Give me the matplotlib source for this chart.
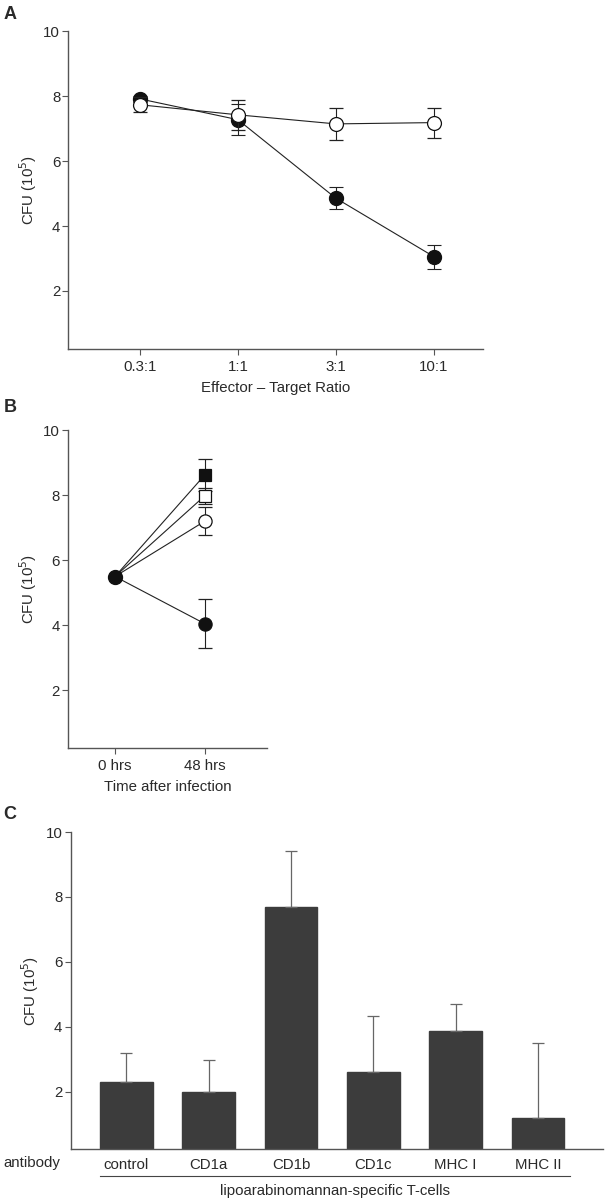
import numpy as np
import matplotlib.pyplot as plt

plt.rcParams["font.family"] = ["Liberation Sans", "DejaVu Sans"]
plt.rcParams["font.size"] = 10.8
plt.rcParams["text.color"] = "#2a2a2a"
plt.rcParams["axes.labelcolor"] = "#2a2a2a"
plt.rcParams["xtick.labelcolor"] = "#2a2a2a"
plt.rcParams["ytick.labelcolor"] = "#2a2a2a"

SPINE = "#555555"

# Panel A: effector-target ratio
ratio_labels = ["0.3:1", "1:1", "3:1", "10:1"]
a_filled = [7.92, 7.28, 4.86, 3.06]
a_filled_err = [0.08, 0.47, 0.34, 0.37]
a_open = [7.74, 7.43, 7.15, 7.19]
a_open_err = [0.23, 0.46, 0.50, 0.46]

# Panel B: time after infection
time_labels = ["0 hrs", "48 hrs"]
b_start = 5.5
b_series = {
    "filled_square": (8.62, 0.50, "s", "#111111"),
    "open_square": (7.98, 0.25, "s", "white"),
    "open_circle": (7.20, 0.43, "o", "white"),
    "filled_circle": (4.05, 0.75, "o", "#111111"),
}

# Panel C: antibody blocking
antibodies = ["control", "CD1a", "CD1b", "CD1c", "MHC I", "MHC II"]
c_values = [2.29, 2.00, 7.70, 2.60, 3.88, 1.18]
c_err = [0.89, 0.97, 1.71, 1.72, 0.81, 2.33]


def style_axes(ax, xticks=True):
    for s in ["top", "right"]:
        ax.spines[s].set_visible(False)
    for s in ["left", "bottom"]:
        ax.spines[s].set_color(SPINE)
        ax.spines[s].set_linewidth(1.0)
    ax.set_ylim(0.22, 10)
    ax.set_yticks([2, 4, 6, 8, 10])
    ax.tick_params(axis="y", direction="out", length=4, width=0.8, color=SPINE, pad=2)
    if xticks:
        ax.tick_params(axis="x", direction="out", length=4, width=0.8, color=SPINE, pad=4)
    else:
        ax.tick_params(axis="x", length=0, pad=6)
    ax.set_ylabel("CFU (10$^5$)", labelpad=3)


fig = plt.figure(figsize=(6.06, 12.01), dpi=100)

# ---- A ----
ax = fig.add_axes([0.113, 0.7097, 0.6835, 0.2641])
x = np.arange(len(ratio_labels))
ax.errorbar(x, a_filled, yerr=a_filled_err, fmt="-o", color="#222222", lw=0.8,
            ms=10, mfc="#111111", mec="#111111", capsize=5, elinewidth=0.8,
            capthick=0.8, zorder=2)
ax.errorbar(x, a_open, yerr=a_open_err, fmt="-o", color="#222222", lw=0.8,
            ms=10, mfc="white", mec="#111111", mew=0.9, capsize=5,
            elinewidth=0.8, capthick=0.8, zorder=3)
ax.set_xlim(-0.73, 3.5)
ax.set_xticks(x)
ax.set_xticklabels(ratio_labels)
ax.set_xlabel("Effector \u2013 Target Ratio", labelpad=5)
style_axes(ax)
fig.text(0.006, 0.995, "A", fontsize=13, fontweight="bold", va="top")

# ---- B ----
ax = fig.add_axes([0.1127, 0.3769, 0.3274, 0.2650])
for name, (val, err, mk, fc) in b_series.items():
    ax.plot([0, 1], [b_start, val], color="#222222", lw=0.8, zorder=2)
    ax.errorbar([1], [val], yerr=[err], fmt=mk, color="#222222",
                ms=9.5 if mk == "o" else 8.5,
                mfc=fc, mec="#111111", mew=0.9, capsize=5, elinewidth=0.8,
                capthick=0.8, zorder=3)
ax.plot([0], [b_start], "o", ms=10, color="#111111", zorder=4)
ax.set_xlim(-0.52, 1.69)
ax.set_xticks([0, 1])
ax.set_xticklabels(time_labels)
ax.set_xlabel("Time after infection", labelpad=5)
style_axes(ax)
fig.text(0.006, 1 - 399 / 1201, "B", fontsize=13, fontweight="bold", va="top")

# ---- C ----
ax = fig.add_axes([0.1167, 0.0430, 0.8784, 0.2642])
xc = np.arange(len(antibodies))
ax.bar(xc, c_values, width=0.64, color="#3c3c3c", edgecolor="#3c3c3c",
       yerr=[np.zeros(len(c_err)), c_err],
       error_kw=dict(ecolor="#666666", elinewidth=0.9, capsize=4, capthick=0.9))
ax.set_xlim(-0.676, 5.79)
ax.set_xticks(xc)
ax.set_xticklabels(antibodies)
style_axes(ax, xticks=False)
fig.text(0.006, 1 - 1163 / 1201, "antibody", va="center", ha="left")
line_y = 1 - 1176 / 1201
fig.add_artist(plt.Line2D([100 / 606, 570 / 606], [line_y, line_y],
                          color="#444444", lw=0.8))
fig.text(335 / 606, 1 - 1191 / 1201, "lipoarabinomannan-specific T-cells",
         ha="center", va="center")
fig.text(0.006, 1 - 806 / 1201, "C", fontsize=13, fontweight="bold", va="top")

fig.savefig("out.png", dpi=100)
